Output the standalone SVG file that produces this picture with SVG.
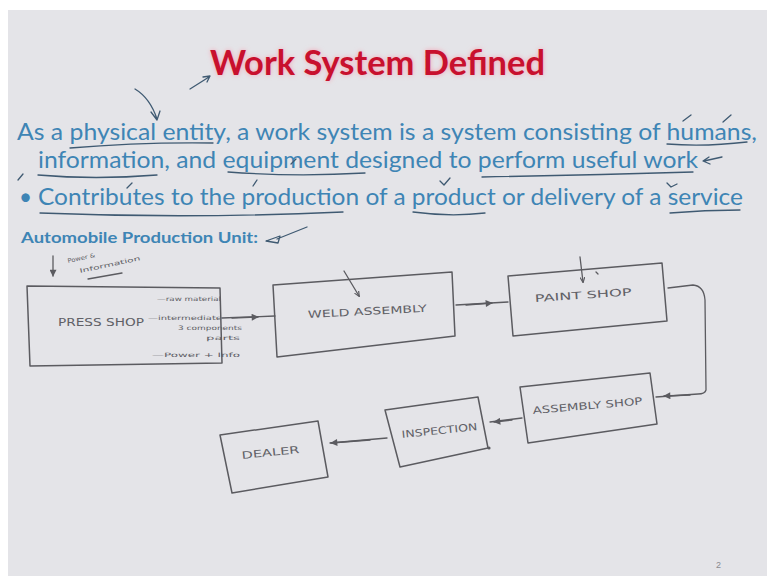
<svg xmlns="http://www.w3.org/2000/svg" width="767" height="576" viewBox="0 0 767 576">
  <style>
    .title { font-family: Lato, "Open Sans", "Liberation Sans", sans-serif; font-size: 35px; font-weight: 700; fill: #c8102e; }
    .body { font-family: Lato, "Open Sans", "Liberation Sans", sans-serif; font-size: 22.5px; fill: #3e85b5; }
    .sub { font-family: Lato, "Open Sans", "Liberation Sans", sans-serif; font-size: 15px; font-weight: 700; fill: #3e85b5; }
    .ink { fill: none; stroke: #3f5a72; stroke-width: 1.3; stroke-linecap: round; stroke-linejoin: round; }
    .box { fill: none; stroke: #5b5b60; stroke-width: 1.5; stroke-linejoin: round; }
    .wire { fill: none; stroke: #5b5b60; stroke-width: 1.3; stroke-linecap: round; stroke-linejoin: round; }
    .hand { font-family: "DejaVu Sans", "Liberation Sans", sans-serif; font-size: 10px; fill: #606066; }
    .note { font-family: "DejaVu Sans", "Liberation Sans", sans-serif; font-size: 6px; fill: #606066; }
    .pg { font-family: "Liberation Sans", sans-serif; font-size: 9px; fill: #8a8a90; }
  </style>
  <defs>
    <marker id="head" viewBox="0 0 10 10" refX="9" refY="5" markerWidth="8" markerHeight="7" markerUnits="userSpaceOnUse" orient="auto">
      <path d="M0,0 L10,5 L0,10 Z" fill="#5b5b60"/>
    </marker>
    <marker id="tip" viewBox="0 0 10 10" refX="8" refY="5" markerWidth="6" markerHeight="6" markerUnits="userSpaceOnUse" orient="auto">
      <path d="M0,1 L9,5 L0,9" fill="none" stroke="#5b5b60" stroke-width="2"/>
    </marker>
    <filter id="glow" x="-10%" y="-30%" width="120%" height="160%">
      <feGaussianBlur stdDeviation="2.5"/>
    </filter>
  </defs>

  <!-- slide background with white margin -->
  <rect width="767" height="576" fill="#ffffff"/>
  <rect x="8" y="10" width="759" height="566" fill="#e4e4e8"/>

  <!-- heading -->
  <g id="heading">
    <text class="title" x="210" y="75" textLength="335" lengthAdjust="spacingAndGlyphs" style="fill:#f5a3b4" filter="url(#glow)">Work System Defined</text>
    <text class="title" x="210" y="75" textLength="335" lengthAdjust="spacingAndGlyphs">Work System Defined</text>
  </g>

  <!-- definition text -->
  <g id="definition">
    <text class="body" x="17" y="140" textLength="740" lengthAdjust="spacingAndGlyphs">As a physical entity, a work system is a system consisting of humans,</text>
    <text class="body" x="38" y="168" textLength="660" lengthAdjust="spacingAndGlyphs">information, and equipment designed to perform useful work</text>
    <text class="body" x="19" y="205">•</text>
    <text class="body" x="38" y="205" textLength="705" lengthAdjust="spacingAndGlyphs">Contributes to the production of a product or delivery of a service</text>
    <text class="sub" x="21" y="243" textLength="237" lengthAdjust="spacingAndGlyphs">Automobile Production Unit:</text>
  </g>

  <!-- pen marks over the text -->
  <g id="pen-marks">
    <path class="ink" d="M190,89 L209,77 M203,77 L210,76 L207,82"/>
    <path class="ink" d="M135,89 Q150,98 157,119 M151,112 L157,120 L160,111"/>
    <path class="ink" d="M70,148 Q140,142 213,143"/>
    <path class="ink" d="M667,144 Q705,147 747,142 M683,121 L691,115 M723,122 L731,115"/>
    <path class="ink" d="M38,175 Q95,180 157,175 M18,180 L23,174"/>
    <path class="ink" d="M228,172 Q295,177 365,173 M291,164 L296,159"/>
    <path class="ink" d="M482,177 Q590,175 693,172"/>
    <path class="ink" d="M722,157 L704,161 M709,157 L703,161 L710,164"/>
    <path class="ink" d="M40,213 Q190,219 343,212 M127,188 L132,183"/>
    <path class="ink" d="M253,186 L257,180"/>
    <path class="ink" d="M440,181 L444,185 L450,178 M413,212 Q450,217 485,213"/>
    <path class="ink" d="M667,183 L671,187 L677,184 M670,213 Q705,210 740,210"/>
    <path class="ink" d="M307,227 L277,239 M280,236 L266,241 L278,243 Z"/>
  </g>

  <!-- production line flow -->
  <g id="connectors">
    <path class="wire" d="M222,318 L275,316"/>
    <path class="wire" d="M232,318 L258,317" marker-end="url(#head)"/>
    <path class="wire" d="M456,305 L508,302"/>
    <path class="wire" d="M466,305 L492,303" marker-end="url(#head)"/>
    <path class="wire" d="M668,288 L693,285 Q704,286 705,300 L706,390 Q705,394 698,394 L656,397"/>
    <path class="wire" d="M690,395 L664,396" marker-end="url(#head)"/>
    <path class="wire" d="M522,418 L490,422"/>
    <path class="wire" d="M512,420 L494,422" marker-end="url(#head)"/>
    <path class="wire" d="M387,438 L330,443"/>
    <path class="wire" d="M370,440 L331,443" marker-end="url(#head)"/>
  </g>

  <g id="press-shop">
    <path class="box" d="M27,286 L220,288 L222,363 L30,366 Z"/>
    <text class="hand" x="58" y="326" textLength="86" lengthAdjust="spacingAndGlyphs">PRESS  SHOP</text>
    <path class="wire" d="M53,256 L53,276" marker-end="url(#head)"/>
    <text class="note" x="68" y="263" transform="rotate(-12 68 263)" textLength="28" lengthAdjust="spacingAndGlyphs">Power &amp;</text>
    <text class="note" x="80" y="273" transform="rotate(-12 80 273)" textLength="62" lengthAdjust="spacingAndGlyphs">Information</text>
    <path class="wire" d="M88,279 L122,273"/>
    <text class="note" x="157" y="301" textLength="64" lengthAdjust="spacingAndGlyphs">—raw material</text>
    <text class="note" x="148" y="320" textLength="74" lengthAdjust="spacingAndGlyphs">—intermediate</text>
    <text class="note" x="178" y="330" textLength="64" lengthAdjust="spacingAndGlyphs">3 components</text>
    <text class="note" x="206" y="340" textLength="34" lengthAdjust="spacingAndGlyphs">parts</text>
    <text class="note" x="152" y="357" textLength="88" lengthAdjust="spacingAndGlyphs">—Power + Info</text>
  </g>

  <g id="weld-assembly">
    <path class="box" d="M273,285 L452,272 L455,336 L277,357 Z"/>
    <path class="wire" d="M344,271 L359,296" marker-end="url(#tip)"/>
    <text class="hand" x="308" y="318" transform="rotate(-3 308 318)" textLength="119" lengthAdjust="spacingAndGlyphs">WELD ASSEMBLY</text>
  </g>

  <g id="paint-shop">
    <path class="box" d="M508,276 L662,263 L667,321 L513,336 Z"/>
    <path class="wire" d="M580,257 L583,282" marker-end="url(#tip)"/>
    <path class="wire" d="M596,272 L598,274"/>
    <text class="hand" x="535" y="302" transform="rotate(-4 535 302)" textLength="97" lengthAdjust="spacingAndGlyphs">PAINT  SHOP</text>
  </g>

  <g id="assembly-shop">
    <path class="box" d="M520,387 L650,373 L657,424 L528,443 Z"/>
    <text class="hand" x="533" y="414" transform="rotate(-5 533 414)" textLength="110" lengthAdjust="spacingAndGlyphs">ASSEMBLY SHOP</text>
  </g>

  <g id="inspection">
    <path class="box" d="M385,410 L478,397 L488,448 L400,467 Z"/>
    <circle cx="489" cy="448" r="1.6" fill="#5b5b60"/>
    <text class="hand" x="402" y="438" transform="rotate(-6 402 438)" textLength="76" lengthAdjust="spacingAndGlyphs">INSPECTION</text>
  </g>

  <g id="dealer">
    <path class="box" d="M220,435 L318,421 L328,477 L232,493 Z"/>
    <text class="hand" x="242" y="459" transform="rotate(-6 242 459)" textLength="58" lengthAdjust="spacingAndGlyphs">DEALER</text>
  </g>

  <text class="pg" x="716" y="568">2</text>
</svg>
